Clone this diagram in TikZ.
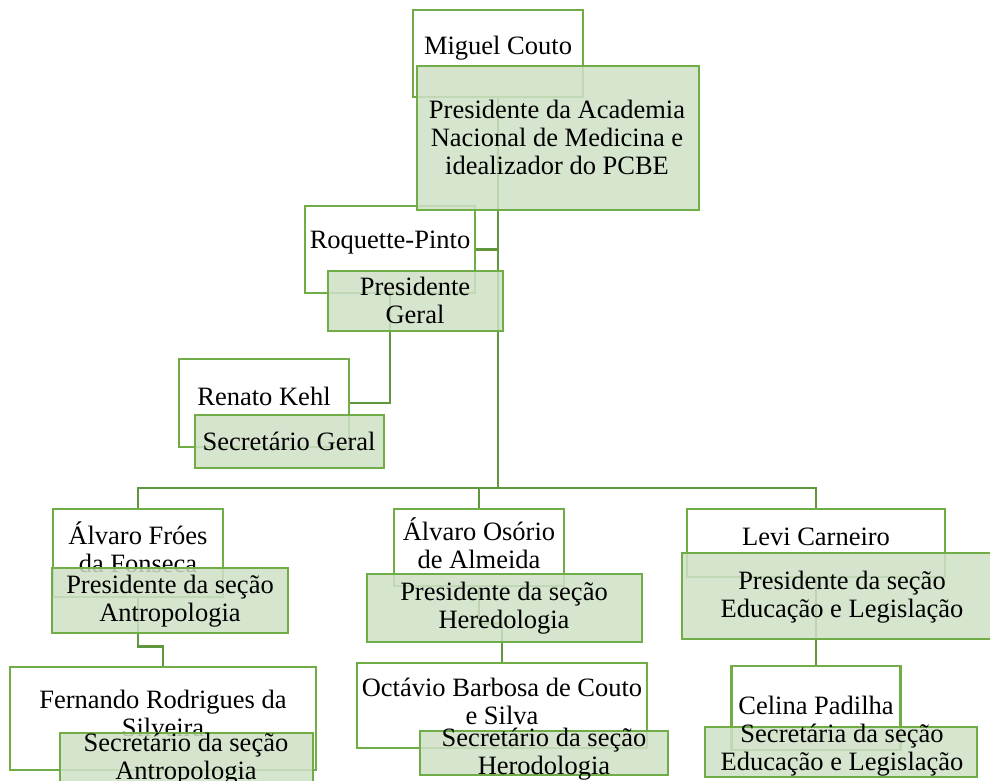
\documentclass[tikz,border=0pt]{standalone}
\usepackage{fontspec}
\setmainfont{Liberation Serif}
\usetikzlibrary{backgrounds}
\definecolor{chartgreen}{RGB}{112,173,71}
\definecolor{chartline}{RGB}{96,150,60}
\definecolor{chartfill}{RGB}{207,224,198}
\begin{document}
\begin{tikzpicture}[x=1pt,y=-1pt,
   namebox/.style 2 args={draw=chartgreen,fill=white,line width=2.7pt,inner sep=0,minimum width=#1pt,minimum height=#2pt},
   rolebox/.style 2 args={draw=chartgreen,fill=chartfill,fill opacity=0.85,line width=2.7pt,inner sep=0,minimum width=#1pt,minimum height=#2pt},
   txt/.style={align=center,inner sep=0,font=\fontsize{26.5pt}{28pt}\selectfont},
   link/.style={draw=chartline,line width=2.5pt}
  ]
  \clip (0,0) rectangle (990,780);
  % names
  \node[namebox={170}{87}] (couto) at (498,53.5) {};
  \node[txt] (couto-t) at (498,48) {Miguel Couto};
  \node[namebox={170}{87}] (roquette) at (390,249.5) {};
  \node[txt] (roquette-t) at (390,243) {Roquette-Pinto};
  \node[namebox={170}{88}] (kehl) at (264,403) {};
  \node[txt] (kehl-t) at (264,396) {Renato Kehl};
  \node[namebox={170}{88}] (froes) at (138,553) {};
  \node[txt] (froes-t) at (138,547) {Álvaro Fróes\\da Fonseca};
  \node[namebox={306}{103}] (silveira) at (163,718.5) {};
  \node[txt] (silveira-t) at (163,713) {Fernando Rodrigues da\\Silveira};
  \node[namebox={170}{77}] (osorio) at (479,547.5) {};
  \node[txt] (osorio-t) at (479,543) {Álvaro Osório\\de Almeida};
  \node[namebox={290}{85}] (octavio) at (502,705.5) {};
  \node[txt] (octavio-t) at (502,701) {Octávio Barbosa de Couto\\e Silva};
  \node[namebox={258}{68}] (levi) at (816,543) {};
  \node[txt] (levi-t) at (816,537) {Levi Carneiro};
  \node[namebox={169}{84}] (celina) at (816,708) {};
  \node[txt] (celina-t) at (816,705) {Celina Padilha};
  % roles
  \node[rolebox={282}{144}] (couto-r) at (558,138) {};
  \node[txt] (couto-rt) at (557,137) {Presidente da Academia\\Nacional de Medicina e\\idealizador do PCBE};
  \node[rolebox={175}{60}] (roquette-r) at (415.5,301) {};
  \node[txt] (roquette-rt) at (415,300) {Presidente\\Geral};
  \node[rolebox={189}{53}] (kehl-r) at (289.5,441.5) {};
  \node[txt] (kehl-rt) at (289,441) {Secretário Geral};
  \node[rolebox={236}{65}] (froes-r) at (170,600.5) {};
  \node[txt] (froes-rt) at (170,601) {Presidente da seção\\Antropologia};
  \node[rolebox={253}{67}] (silveira-r) at (186.5,766.5) {};
  \node[txt] (silveira-rt) at (186,759) {Secretário da seção\\Antropologia};
  \node[rolebox={275}{68}] (osorio-r) at (504.5,608) {};
  \node[txt] (osorio-rt) at (504,608) {Presidente da seção\\Heredologia};
  \node[rolebox={248}{44}] (octavio-r) at (544,753) {};
  \node[txt] (octavio-rt) at (544,754) {Secretário da seção\\Herodologia};
  \node[rolebox={320}{86}] (levi-r) at (842,596) {};
  \node[txt] (levi-rt) at (842,597) {Presidente da seção\\Educação e Legislação};
  \node[rolebox={272}{50}] (celina-r) at (841,752) {};
  \node[txt] (celina-rt) at (842,750) {Secretária da seção\\Educação e Legislação};
  % connectors
  \begin{pgfonlayer}{background}
    \coordinate (bus) at (couto.south |- 0,488);
    \draw[link] (couto.south) -- (bus);
    \draw[link] (roquette.east) -- (roquette.east -| couto.south);
    \draw[link] (roquette.south) |- (kehl.east);
    \draw[link] (bus) -| (froes.north);
    \draw[link] (bus) -| (osorio.north);
    \draw[link] (bus) -| (levi.north);
    \draw[link] (froes.south) -- ++(0,48) -| (silveira.north);
    \draw[link] (osorio.south) -- ++(0,36) -| (octavio.north);
    \draw[link] (levi.south) -- (levi.south |- celina.north);
  \end{pgfonlayer}
\end{tikzpicture}
\end{document}
